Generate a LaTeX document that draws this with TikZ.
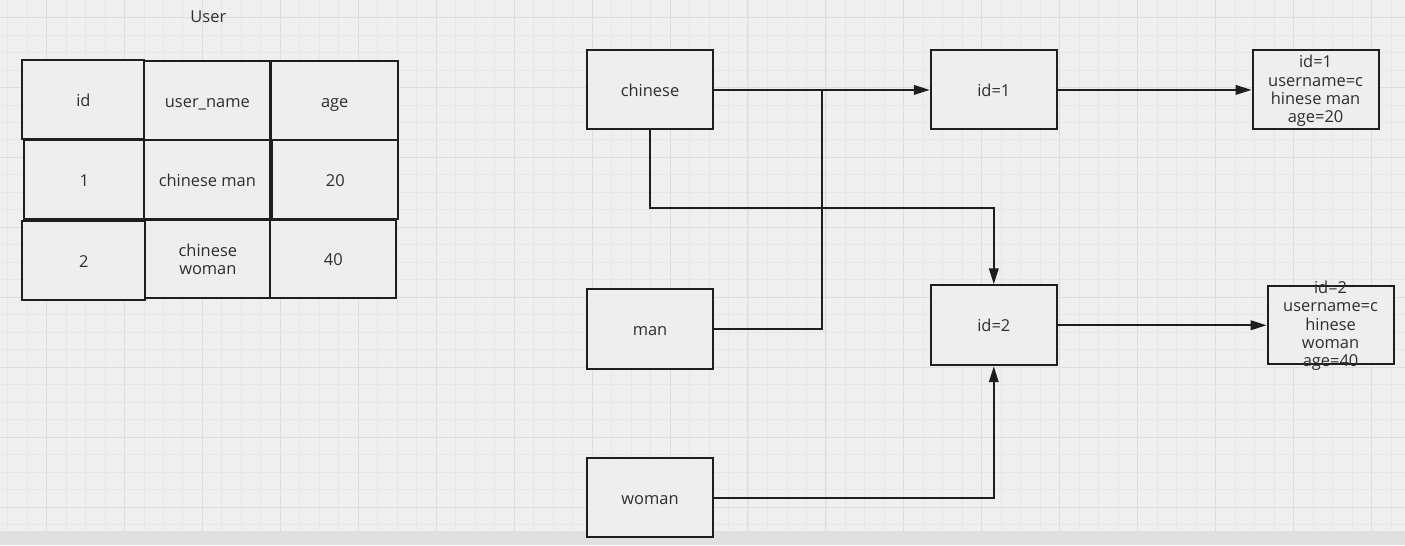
\documentclass[tikz,border=0pt]{standalone}
\usepackage{fontspec}
\setmainfont{Open Sans}
\usetikzlibrary{arrows.meta}
\definecolor{bgc}{HTML}{EFEFEF}
\definecolor{minorc}{HTML}{E6E6E6}
\definecolor{majorc}{HTML}{DDDDDD}
\definecolor{barc}{HTML}{E0E0E0}
\definecolor{boxc}{HTML}{EEEEEE}
\definecolor{linec}{HTML}{1E1E1E}
\definecolor{txtc}{HTML}{2E2E2E}
\tikzset{
  minorline/.style={draw=minorc, line width=0.8bp},
  majorline/.style={draw=majorc, line width=1bp},
  boxbase/.style={draw=linec, fill=boxc, line width=2bp, inner sep=0pt, text=txtc,
     font=\fontsize{16.5}{18.3}\selectfont, align=center},
  boxnode/.style={boxbase, text height=14bp, text depth=1bp},
  txtnode/.style={inner sep=0pt, text=txtc, font=\fontsize{16.5}{18.3}\selectfont, align=center},
  conn/.style={draw=linec, line width=2bp, -{Triangle[length=16bp,width=9.5bp]}},
  plainconn/.style={draw=linec, line width=2bp}
}
\begin{document}
\begin{tikzpicture}[x=1bp,y=-1bp]
% background and grid
\fill[bgc] (0,0) rectangle (1405,545);
\foreach \i in {0,...,71} {\draw[minorline] ({7+19.5*\i},0) -- ({7+19.5*\i},531);}
\foreach \i in {0,...,29} {\draw[minorline] (0,{17+17.5*\i}) -- (1405,{17+17.5*\i});}
\foreach \i in {0,...,17} {\draw[majorline] ({46+78*\i},0) -- ({46+78*\i},531);}
\foreach \i in {0,...,7} {\draw[majorline] (0,{17+70*\i}) -- (1405,{17+70*\i});}
\fill[barc] (0,531) rectangle (1405,545);

% table
\node[txtnode] (title) at (208,16) {User};
\node[boxnode, minimum width=122bp, minimum height=79bp] (c11) at (83,99.5) {id};
\node[boxnode, minimum width=126bp, minimum height=79bp] (c12) at (207,100.5) {user\_name};
\node[boxnode, minimum width=127bp, minimum height=79bp] (c13) at (334.5,100.5) {age};
\node[boxnode, minimum width=120bp, minimum height=79bp] (c21) at (84,179.5) {1};
\node[boxnode, minimum width=126bp, minimum height=79bp] (c22) at (207,179.5) {chinese man};
\node[boxnode, minimum width=126bp, minimum height=79bp] (c23) at (335,179.5) {20};
\node[boxnode, minimum width=123bp, minimum height=79bp] (c31) at (83.5,260.5) {2};
\node[boxbase, minimum width=125bp, minimum height=78bp] (c32) at (207.5,259) {chinese\\woman};
\node[boxnode, minimum width=126bp, minimum height=78bp] (c33) at (333,259) {40};

% right diagram
\node[boxnode, minimum width=126bp, minimum height=79bp] (chinese) at (650,89.5) {chinese};
\node[boxnode, minimum width=126bp, minimum height=80bp] (man) at (650,329) {man};
\node[boxnode, minimum width=126bp, minimum height=79bp] (woman) at (650,497.5) {woman};
\node[boxnode, minimum width=126bp, minimum height=79bp] (id1) at (994,89.5) {id=1};
\node[boxnode, minimum width=126bp, minimum height=80bp] (id2) at (994,325) {id=2};
\node[boxbase, minimum width=126bp, minimum height=79bp] (r1) at (1316,89.5) {};
\node[txtnode] (r1t) at (1316,90.5) {id=1\\username=c\\hinese man\\age=20};
\node[boxbase, minimum width=126bp, minimum height=78bp] (r2) at (1331,325) {};
\node[txtnode] (r2t) at (1331,325.5) {id=2\\username=c\\hinese\\woman\\age=40};

\coordinate (jt) at (822,89.5);
\coordinate (jc) at (994,208);
\draw[conn] (chinese.east) -- (id1.west);
\draw[plainconn] (man.east) -| (jt);
\draw[conn] (chinese.south) |- (jc) -- (id2.north);
\draw[conn] (woman.east) -| (id2.south);
\draw[conn] (id1.east) -- (r1.west);
\draw[conn] (id2.east) -- (r2.west);
\end{tikzpicture}
\end{document}
